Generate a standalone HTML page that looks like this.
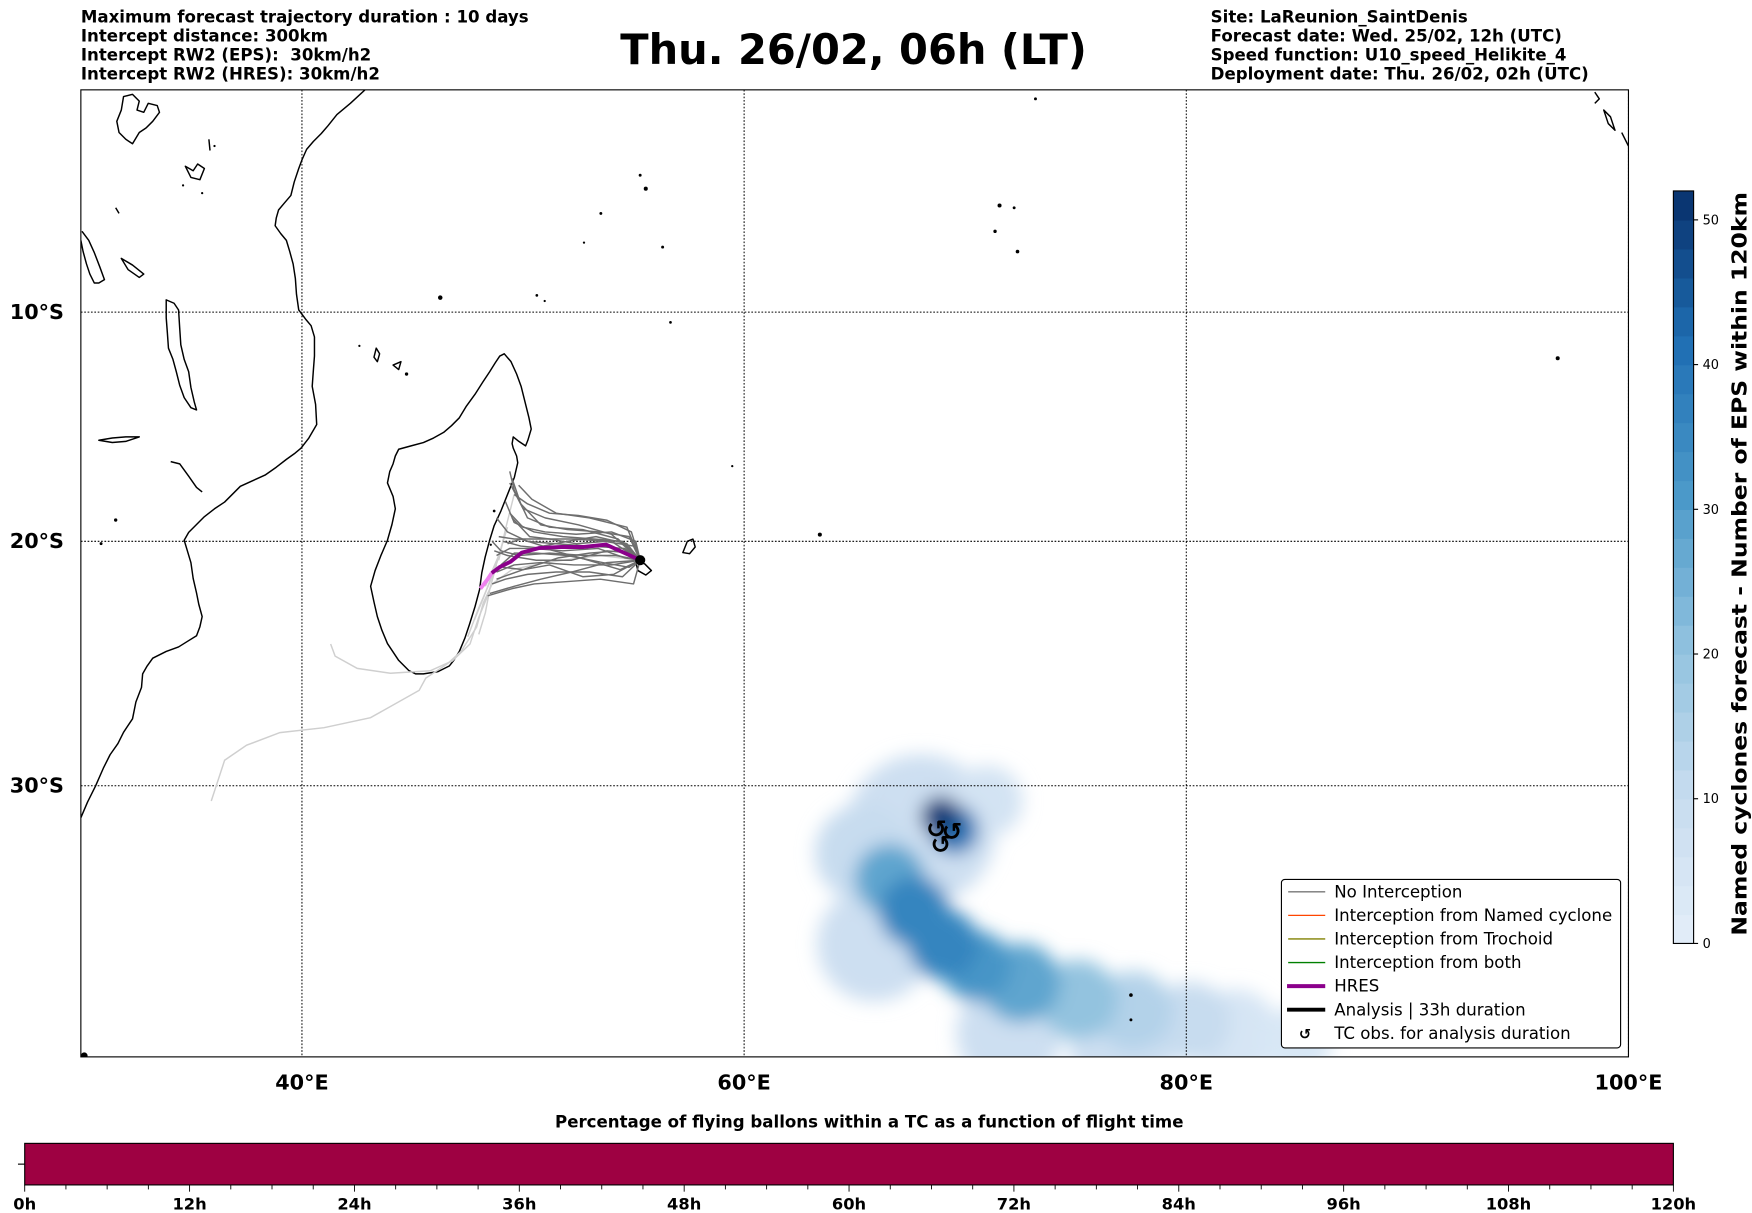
<!DOCTYPE html>
<html><head><meta charset="utf-8"><style>
html,body{margin:0;padding:0;background:#fff;}
svg{display:block;}
text{font-family:"DejaVu Sans","Liberation Sans",sans-serif;}
</style></head><body>
<svg id="chart" width="1752" height="1213" viewBox="0 0 1560 1080" preserveAspectRatio="none" xmlns="http://www.w3.org/2000/svg">
<defs>
<filter id="blur" x="-50%" y="-50%" width="200%" height="200%"><feGaussianBlur stdDeviation="8"/></filter>
<clipPath id="mapclip"><rect x="72" y="80" width="1378" height="861"/></clipPath>
</defs>
<g font-size="14.8" font-weight="bold">
<text x="72" y="20">Maximum forecast trajectory duration : 10 days</text>
<text x="72" y="37">Intercept distance: 300km</text>
<text x="72" y="54" xml:space="preserve">Intercept RW2 (EPS):  30km/h2</text>
<text x="72" y="71">Intercept RW2 (HRES): 30km/h2</text>
</g>
<text x="760" y="57" text-anchor="middle" font-size="37" font-weight="bold">Thu. 26/02, 06h (LT)</text>
<g font-size="14.8" font-weight="bold">
<text x="1078" y="20">Site: LaReunion_SaintDenis</text>
<text x="1078" y="37">Forecast date: Wed. 25/02, 12h (UTC)</text>
<text x="1078" y="54">Speed function: U10_speed_Helikite_4</text>
<text x="1078" y="71">Deployment date: Thu. 26/02, 02h (UTC)</text>
</g>
<g id="map" clip-path="url(#mapclip)">
<g id="density" filter="url(#blur)"></g>
<g id="grid"></g>
<g id="coast" fill="none" stroke="#000" stroke-width="1.3" stroke-linejoin="round">
<path d="M325,80 L312,92 300,102 292,112 286,119 279,126 273,133 269,142 266,150 262,162 259,174 253,181 248,187 246,194 245,201 250,208 255,214 258,224 261,235 263,248 264,262 266,276 272,284 277,290 280,300 280,317 279,330 278,344 281,360 282,378 275,390 268,399 262,404 255,409 246,416 236,423 225,428 214,433 207,440 200,447 191,453 182,460 175,467 168,474 164,481 167,491 170,501 172,515 175,528 177,538 180,549 178,558 175,566 167,571 159,576 148,580 136,586 131,593 127,600 126,612 121,625 118,640 110,652 105,662 98,672 92,684 85,700 78,714 72,728"/>
<path d="M449,315 L455,322 460,333 464,344 468,360 471,372 473,382 470,392 468,397 462,393 457,389 456,395 457,399 460,406 461,412 458,425 452,440 446,455 440,468 436,481 432,496 429,510 427,525 423,540 418,556 414,568 409,580 404,588 400,593 390,598 377,600 370,600 364,597 355,588 345,573 340,561 336,549 333,536 330,522 332,515 334,508 339,495 345,481 349,467 352,453 350,442 345,430 347,420 350,413 352,406 355,400 366,397 377,394 386,390 395,385 402,379 409,372 415,362 423,351 430,340 436,331 441,323 445,317 Z"/>
<path d="M148,267 L155,270 159,276 160,292 161,307 164,320 168,331 170,345 173,358 175,365 170,363 164,354 160,343 157,331 154,320 150,310 149,296 148,283 Z"/>
<path d="M73,206 L79,214 84,225 89,238 93,249 88,252 84,252 80,244 77,235 74,224 72,214"/>
<path d="M110,86 L118,84 124,90 122,98 128,100 132,92 140,94 142,100 136,108 130,114 124,118 118,128 112,124 106,118 104,108 108,98 Z"/>
<path d="M108,230 L118,236 128,244 124,247 114,240 Z"/>
<path d="M88,392 L100,390 112,389 124,389 112,393 100,394 Z"/>
<path d="M152,411 L160,413 168,424 175,434 180,438"/>
<path d="M612,482 L617,480 619,487 614,493 608,492 Z"/>
<path d="M566,500 L574,502 580,508 575,512 568,508 Z"/>
<path d="M335,310 L338,315 336,322 333,318 Z"/>
<path d="M350,325 L357,322 355,329 Z"/>
<path d="M1420,82 L1424,88 1420,92 M1428,98 L1432,110 1438,116 1434,104 Z M1444,118 L1450,130"/>
<path d="M165,148 L172,152 176,146 182,150 178,160 170,158 Z"/>
<path d="M103,185 L106,190 M186,124 L187,134"/>
</g>
<g fill="#000">
<circle cx="570" cy="156" r="1.3"/><circle cx="575" cy="168" r="1.8"/><circle cx="535" cy="190" r="1.3"/><circle cx="520" cy="216" r="1"/><circle cx="590" cy="220" r="1.3"/>
<circle cx="890" cy="183" r="1.8"/><circle cx="903" cy="185" r="1.3"/><circle cx="886" cy="206" r="1.5"/><circle cx="906" cy="224" r="1.6"/><circle cx="922" cy="88" r="1.3"/>
<circle cx="1387" cy="319" r="1.8"/><circle cx="730" cy="476" r="1.8"/><circle cx="652" cy="415" r="1"/><circle cx="478" cy="263" r="1.2"/><circle cx="485" cy="268" r="1"/>
<circle cx="392" cy="265" r="2"/><circle cx="597" cy="287" r="1.2"/><circle cx="320" cy="308" r="1"/><circle cx="362" cy="333" r="1.5"/><circle cx="103" cy="463" r="1.5"/>
<circle cx="90" cy="484" r="1.3"/><circle cx="1007" cy="886" r="1.6"/><circle cx="1007" cy="908" r="1.3"/><circle cx="440" cy="455" r="1.2"/><circle cx="437" cy="485" r="1"/>
<circle cx="75" cy="940" r="3"/><circle cx="163" cy="165" r="1"/><circle cx="180" cy="172" r="1"/><circle cx="191" cy="130" r="1"/>
</g>
<g id="tracks" fill="none"></g>
<g id="obs"></g>
</g>
<rect x="72" y="80" width="1378" height="861" fill="none" stroke="#000" stroke-width="1"/>
<g id="axislabels" font-size="18.5" font-weight="bold"></g>
<g>
<rect x="1141" y="783" width="302" height="150" rx="3" fill="#fff" stroke="#000" stroke-width="1"/>
<g font-size="14.8">
<line x1="1147" x2="1180" y1="794" y2="794" stroke="#777" stroke-width="1.2"/><text x="1188" y="799">No Interception</text>
<line x1="1147" x2="1180" y1="815" y2="815" stroke="#ff4500" stroke-width="1.2"/><text x="1188" y="820">Interception from Named cyclone</text>
<line x1="1147" x2="1180" y1="836" y2="836" stroke="#808000" stroke-width="1.2"/><text x="1188" y="841">Interception from Trochoid</text>
<line x1="1147" x2="1180" y1="857" y2="857" stroke="#008000" stroke-width="1.2"/><text x="1188" y="862">Interception from both</text>
<line x1="1146" x2="1180" y1="878" y2="878" stroke="#8b008b" stroke-width="3.5"/><text x="1188" y="883">HRES</text>
<line x1="1146" x2="1180" y1="899" y2="899" stroke="#000" stroke-width="3.5"/><text x="1188" y="904">Analysis | 33h duration</text>
<text x="1162" y="925" text-anchor="middle" font-weight="bold" font-size="13">↺</text><text x="1188" y="925">TC obs. for analysis duration</text>
</g>
</g>
<g id="cbar"></g>
<text transform="translate(1555,502) rotate(-90)" text-anchor="middle" font-size="18" font-weight="bold" textLength="662" lengthAdjust="spacingAndGlyphs">Named cyclones forecast - Number of EPS within 120km</text>
<text x="774" y="1004" text-anchor="middle" font-size="14.8" font-weight="bold">Percentage of flying ballons within a TC as a function of flight time</text>
<g id="tbar"></g>
</svg>
<script>
// ---- data ----
const lonTicks = [40, 60, 80, 100];
const latTicks = [10, 20, 30];
const cbarTicks = [0, 10, 20, 30, 40, 50];
const cbarMax = 52;
const timeTicks = [0, 12, 24, 36, 48, 60, 72, 84, 96, 108, 120];
const timePercent = [100];
// cyclone density blobs: lon, lat(S), value, radius(deg)
const blobLon = [68.0, 65.4, 71.0, 65.9, 72.0, 77.1, 82.2, 80.2, 85.0, 77.6, 75.1, 66.6, 72.5, 70.5, 67.7, 69.0, 69.5, 68.9];
const blobLat = [31.7, 32.6, 30.6, 36.0, 39.2, 39.6, 39.2, 38.8, 39.5, 38.4, 38.0, 33.6, 37.4, 36.8, 34.8, 36.0, 31.7, 31.2];
const blobVal = [8, 10, 6, 8, 8, 8, 5, 10, 4, 14, 20, 28, 28, 32, 36, 36, 40, 50];
const blobRad = [3.4, 2.2, 1.6, 2.6, 2.4, 2.4, 2.0, 1.8, 1.6, 1.8, 1.8, 1.6, 1.8, 1.6, 1.6, 1.6, 1.1, 0.9];
// TC observations
const obsLon = [68.7, 69.4, 68.9];
const obsLat = [31.7, 31.8, 32.3];
// ensemble tracks (lon, lat S)
const tracksLight = [
 [[55.3,20.8],[53.5,20.6],[51.0,20.9],[49.5,21.2],[48.6,21.8],[48.2,22.6],[47.9,23.6],[47.2,24.6],[46.6,25.1],[45.6,25.7],[45.3,26.2],[43.1,27.3],[41.0,27.7],[39.0,27.9],[37.5,28.4],[36.5,29.0],[35.9,30.6]],
 [[48.4,22.3],[48.0,23.2],[47.6,24.3],[46.8,25.0],[45.8,25.4],[44.0,25.5],[42.5,25.3],[41.5,24.8],[41.3,24.3]],
 [[48.8,21.0],[48.5,22.0],[48.3,23.0],[48.0,23.9]],
 [[49.0,20.4],[48.6,21.5],[48.0,22.8],[47.5,24.0]],
 [[49.3,19.4],[48.9,20.6],[48.3,21.9]],
 [[49.6,18.0],[49.2,19.5],[48.9,20.8]],
 [[49.1,20.0],[48.7,21.2],[48.2,22.4],[47.8,23.3]]
];
const tracksDark = [
 [[55.3,20.8],[54.3,19.9],[52.7,19.5],[51.2,19.4],[50.2,19.0],[49.6,17.8],[49.4,17.0]],
 [[55.3,20.8],[54.0,19.7],[52.5,19.3],[51.0,19.0],[50.0,18.6],[49.4,17.5]],
 [[55.3,20.8],[54.5,20.0],[53.2,19.9],[51.8,19.8],[50.5,19.6],[49.6,19.2],[49.2,18.3]],
 [[55.3,20.8],[54.6,20.3],[53.0,20.2],[51.5,20.1],[50.2,20.0],[49.3,19.6],[48.8,19.0]],
 [[55.3,20.8],[54.2,20.6],[52.8,20.6],[51.2,20.5],[49.8,20.6],[49.0,20.4],[48.6,20.0]],
 [[55.3,20.8],[54.0,21.0],[52.3,21.0],[50.8,20.9],[49.6,21.0],[48.8,21.3]],
 [[55.3,20.8],[54.5,21.5],[53.0,21.3],[51.5,21.3],[50.2,21.4],[49.2,21.6],[48.6,21.8]],
 [[55.3,20.8],[55.0,21.8],[53.5,21.6],[52.0,21.7],[50.5,21.8],[49.5,22.0],[48.4,22.3]],
 [[55.3,20.8],[54.8,19.8],[53.5,19.6],[52.0,19.5],[50.8,19.3],[49.9,18.4],[49.5,17.3]],
 [[55.3,20.8],[54.0,20.0],[52.2,19.9],[50.6,19.9],[49.6,19.9],[48.9,19.8]],
 [[55.3,20.8],[53.8,20.9],[52.2,21.3],[50.8,21.6],[49.6,21.9],[48.5,22.2]],
 [[55.3,20.8],[54.9,20.5],[53.8,20.4],[52.2,20.8],[50.6,20.8],[49.3,20.6],[48.7,20.4]],
 [[55.3,20.8],[54.7,19.4],[53.0,19.0],[51.5,18.8],[50.4,18.2],[49.8,17.6]],
 [[55.3,20.8],[54.4,21.2],[52.6,20.7],[51.0,20.3],[49.9,20.2],[49.1,20.0]],
 [[55.3,20.8],[55.1,20.0],[54.0,19.6],[52.4,19.7],[51.0,19.6],[50.0,19.4],[49.4,18.8]],
 [[55.3,20.8],[54.6,20.7],[53.4,20.3],[51.8,20.4],[50.4,20.3],[49.4,20.3],[48.8,20.6]],
 [[55.3,20.8],[54.8,21.1],[53.6,20.9],[52.0,20.6],[50.6,20.5],[49.6,20.5],[49.0,21.0]],
 [[55.3,20.8],[55.0,20.2],[53.7,20.0],[52.4,20.1],[51.2,19.9],[50.3,19.8],[49.5,19.0]],
 [[55.3,20.8],[54.3,20.4],[53.0,20.5],[51.6,20.7],[50.3,21.1],[49.4,21.4],[48.8,21.6]],
 [[55.3,20.8],[54.9,19.6],[53.8,19.1],[52.5,18.9],[51.2,18.8],[50.2,18.4],[49.6,18.0]],
 [[55.3,20.8],[54.1,21.4],[52.7,21.5],[51.2,21.0],[50.0,21.2],[49.1,21.1]],
 [[55.3,20.8],[54.7,20.1],[53.3,19.8],[52.0,20.0],[50.9,20.2],[49.9,19.9],[49.3,20.1]]
];
const hresLon = [55.3, 54.77, 53.76, 52.74, 51.73, 50.71, 49.95, 49.44, 48.93, 48.58];
const hresLat = [20.8, 20.57, 20.14, 20.24, 20.24, 20.29, 20.48, 20.86, 21.1, 21.34];
const hresTailLon = [48.58, 48.4, 48.07];
const hresTailLat = [21.34, 21.6, 22.0];
// ---- axes ----
const NS = 'http://www.w3.org/2000/svg';
const x0 = 72, x1 = 1450, lon0 = 30, lon1 = 100;
function xOf(lon){ return x0 + (lon - lon0) * (x1 - x0) / (lon1 - lon0); }
function merc(latS){ const p = latS * Math.PI / 180; return Math.log(Math.tan(Math.PI/4 + p/2)); }
const pxPerRad = (x1 - x0) / ((lon1 - lon0) * Math.PI / 180);
function yOf(latS){ return 80 + pxPerRad * merc(latS); }
function mk(tag, attrs, parent){ const e = document.createElementNS(NS, tag); for (const k in attrs) e.setAttribute(k, attrs[k]); parent.appendChild(e); return e; }
function blues(v){
  const stops = [[0,[228,238,249]],[0.2,[198,219,239]],[0.4,[143,193,222]],[0.6,[74,152,201]],[0.8,[31,110,179]],[1,[8,48,107]]];
  const t = Math.max(0, Math.min(1, v / cbarMax));
  for (let i = 1; i < stops.length; i++){
    if (t <= stops[i][0]){
      const a = stops[i-1], b = stops[i], f = (t - a[0]) / (b[0] - a[0]);
      return 'rgb(' + a[1].map((c,j)=>Math.round(c + (b[1][j]-c)*f)).join(',') + ')';
    }
  }
  return 'rgb(8,48,107)';
}
// density
const dens = document.getElementById('density');
blobVal.forEach((v,i)=>{
  const c = mk('circle', {cx: xOf(blobLon[i]), cy: yOf(blobLat[i]), r: blobRad[i] * (x1-x0)/(lon1-lon0), fill: blues(v)}, dens);
  
  
});
// grid
const grid = document.getElementById('grid');
lonTicks.forEach(l=>{
  const g = mk('line', {x1: xOf(l), x2: xOf(l), y1: 80, y2: 941, stroke: '#000', 'stroke-width': 0.9, 'stroke-dasharray': '1.5,1.5'}, grid);
  
  
});
latTicks.forEach(l=>{
  const g = mk('line', {x1: 72, x2: 1450, y1: yOf(l), y2: yOf(l), stroke: '#000', 'stroke-width': 0.9, 'stroke-dasharray': '1.5,1.5'}, grid);
  
  
});
// tracks
const trk = document.getElementById('tracks');
function pts(arr){ return arr.map(p=>xOf(p[0]).toFixed(1)+','+yOf(p[1]).toFixed(1)).join(' '); }
tracksLight.forEach(t=>{
  const p = mk('polyline', {points: pts(t), stroke: '#cfcfcf', 'stroke-width': 1.3}, trk);
  
  
});
tracksDark.forEach(t=>{
  const p = mk('polyline', {points: pts(t), stroke: '#6e6e6e', 'stroke-width': 1.3, 'stroke-linejoin': 'round'}, trk);
  
  
});
const tail = mk('polyline', {points: pts(hresTailLon.map((l,i)=>[l,hresTailLat[i]])), stroke: '#ee82ee', 'stroke-width': 3.5}, trk);


const hres = mk('polyline', {points: pts(hresLon.map((l,i)=>[l,hresLat[i]])), stroke: '#8b008b', 'stroke-width': 3.5, 'stroke-linejoin': 'round'}, trk);


const dot = mk('circle', {cx: xOf(55.3), cy: yOf(20.8), r: 4.5, fill: '#000'}, trk);


// obs
const obs = document.getElementById('obs');
obsLon.forEach((l,i)=>{
  const t = mk('text', {x: xOf(l), y: yOf(obsLat[i]) + 7, 'text-anchor': 'middle', 'font-size': 22, 'font-weight': 'bold'}, obs);
  t.textContent = '↺';
  
  
});
// axis labels
const al = document.getElementById('axislabels');
lonTicks.forEach(l=>{
  const t = mk('text', {x: xOf(l), y: 970, 'text-anchor': 'middle'}, al);
  t.textContent = l + '°E';
  
  
});
latTicks.forEach(l=>{
  const t = mk('text', {x: 57, y: yOf(l) + 6, 'text-anchor': 'end'}, al);
  t.textContent = l + '°S';
  
  
});
// right colorbar
const cb = document.getElementById('cbar');
const cbTop = 170, cbBot = 840, cbx = 1490, cbw = 18;
function cbY(v){ return cbBot - v * (cbBot - cbTop) / cbarMax; }
for (let v = 0; v < cbarMax; v += 2){
  const r = mk('rect', {x: cbx, y: cbY(v+2), width: cbw, height: cbY(v) - cbY(v+2) + 0.6, fill: blues(v+1)}, cb);
  
  
}
const cbf = mk('rect', {x: cbx, y: cbTop, width: cbw, height: cbBot - cbTop, fill: 'none', stroke: '#000', 'stroke-width': 1}, cb);


cbarTicks.forEach(v=>{
  mk('line', {x1: cbx + cbw, x2: cbx + cbw + 4, y1: cbY(v), y2: cbY(v), stroke: '#000'}, cb);
  const t = mk('text', {x: cbx + cbw + 8, y: cbY(v) + 4, 'font-size': 11.5}, cb);
  t.textContent = v;
  
  
});
// bottom time bar
const tb = document.getElementById('tbar');
const tbx0 = 22, tbx1 = 1490, tby = 1018, tbh = 37;
function tX(h){ return tbx0 + h * (tbx1 - tbx0) / 120; }
const bar = mk('rect', {x: tbx0, y: tby, width: tX(120) - tbx0, height: tbh, fill: timePercent[0] >= 50 ? '#9e0142' : '#5e4fa2', stroke: '#000', 'stroke-width': 1}, tb);


mk('line', {x1: 16, x2: 22, y1: tby + tbh/2, y2: tby + tbh/2, stroke: '#000'}, tb);
for (let h = 0; h <= 120; h += 3){
  mk('line', {x1: tX(h), x2: tX(h), y1: tby + tbh, y2: tby + tbh + (h % 12 === 0 ? 6 : 4), stroke: '#000', 'stroke-width': 0.8}, tb);
}
timeTicks.forEach(h=>{
  const t = mk('text', {x: tX(h), y: 1077, 'text-anchor': 'middle', 'font-size': 14.5, 'font-weight': 'bold'}, tb);
  t.textContent = h + 'h';
  
  
});
</script>
</body></html>
